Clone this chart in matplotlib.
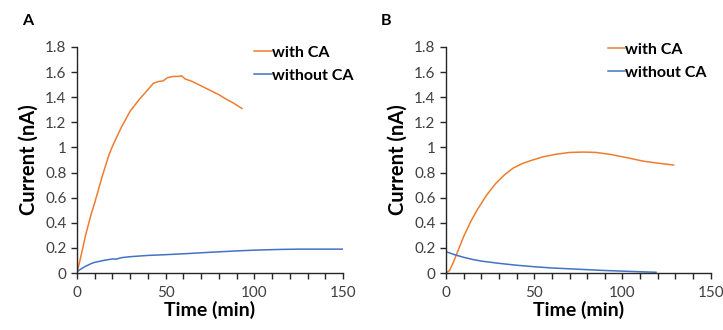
import matplotlib
matplotlib.use("Agg")
import matplotlib.pyplot as plt

plt.rcParams['font.family'] = ['Lato', 'DejaVu Sans']

# Panel A
a_with_t = [0, 2, 5, 8, 10, 14, 18, 20, 25, 30, 35, 40, 43, 46, 48.5, 51, 54, 57, 59, 61, 65, 70, 75, 80, 84, 88, 93]
a_with_i = [0, 0.12, 0.31, 0.47, 0.56, 0.76, 0.94, 1.01, 1.16, 1.29, 1.38, 1.46, 1.51, 1.525, 1.53, 1.555, 1.565, 1.565, 1.57, 1.545, 1.525, 1.49, 1.455, 1.42, 1.385, 1.355, 1.31]
a_without_t = [0, 2, 5, 8, 10, 15, 20, 22, 25, 30, 40, 50, 60, 75, 90, 100, 115, 125, 140, 150]
a_without_i = [0.01, 0.03, 0.055, 0.075, 0.085, 0.1, 0.112, 0.11, 0.122, 0.13, 0.14, 0.146, 0.153, 0.165, 0.176, 0.182, 0.188, 0.19, 0.19, 0.19]

# Panel B
b_with_t = [0, 2, 4, 6, 8, 10, 14, 18, 23, 28, 33, 38, 43, 48, 55, 62, 70, 78, 85, 93, 102, 112, 120, 129]
b_with_i = [0, 0.02, 0.08, 0.15, 0.22, 0.29, 0.41, 0.51, 0.62, 0.71, 0.78, 0.835, 0.87, 0.895, 0.925, 0.945, 0.96, 0.963, 0.96, 0.945, 0.92, 0.89, 0.875, 0.86]
b_without_t = [0, 5, 10, 15, 20, 30, 40, 50, 60, 75, 90, 100, 110, 119]
b_without_i = [0.17, 0.145, 0.125, 0.108, 0.095, 0.077, 0.062, 0.05, 0.04, 0.03, 0.02, 0.015, 0.01, 0.006]

x_ticks = [0, 50, 100, 150]
y_ticks = [0, 0.2, 0.4, 0.6, 0.8, 1, 1.2, 1.4, 1.6, 1.8]
y_tick_labels = ['0', '0.2', '0.4', '0.6', '0.8', '1', '1.2', '1.4', '1.6', '1.8']

ORANGE = '#ED7D31'
BLUE = '#4472C4'
TEXT = '#404040'

fig = plt.figure(figsize=(7.23, 3.30), dpi=100)
axA = fig.add_axes([0.1065, 0.1727, 0.368, 0.685])
axB = fig.add_axes([0.6169, 0.1727, 0.366, 0.685])

panels = [
    (axA, 'A', a_with_t, a_with_i, a_without_t, a_without_i, (0.665, 1.005), -0.205),
    (axB, 'B', b_with_t, b_with_i, b_without_t, b_without_i, (0.611, 1.018), -0.245),
]

for ax, letter, wt, wi, wot, woi, leg_anchor, letter_x in panels:
    ax.plot(wt, wi, color=ORANGE, lw=1.1, label='with CA')
    ax.plot(wot, woi, color=BLUE, lw=1.1, label='without CA')
    ax.set_xlim(0, 150)
    ax.set_ylim(0, 1.8)
    ax.set_xticks(x_ticks)
    ax.set_xticks(range(0, 151, 10), minor=True)
    ax.set_yticks(y_ticks)
    ax.set_yticklabels(y_tick_labels)
    for side in ('top', 'right'):
        ax.spines[side].set_visible(False)
    for side in ('left', 'bottom'):
        ax.spines[side].set_color('#262626')
        ax.spines[side].set_linewidth(1.0)
    ax.tick_params(axis='both', which='major', direction='out', length=4,
                   width=1.0, color='#262626', labelsize=11, labelcolor=TEXT)
    ax.tick_params(axis='x', which='minor', direction='out', length=4,
                   width=1.0, color='#262626')
    ax.tick_params(axis='x', pad=5)
    ax.set_xlabel('Time (min)', fontsize=14, fontweight='bold', labelpad=1)
    ax.set_ylabel('Current (nA)', fontsize=14.5, fontweight='bold', labelpad=5)
    ax.text(letter_x, 1.145, letter, transform=ax.transAxes, fontsize=11.5,
            fontweight='bold', va='top', ha='left')
    ax.legend(loc='upper left', bbox_to_anchor=leg_anchor, frameon=False,
              borderpad=0, borderaxespad=0,
              handlelength=1.1, handletextpad=0.0, labelspacing=0.55,
              prop={'weight': 'bold', 'size': 11.5})

fig.savefig('out.png', dpi=100)
